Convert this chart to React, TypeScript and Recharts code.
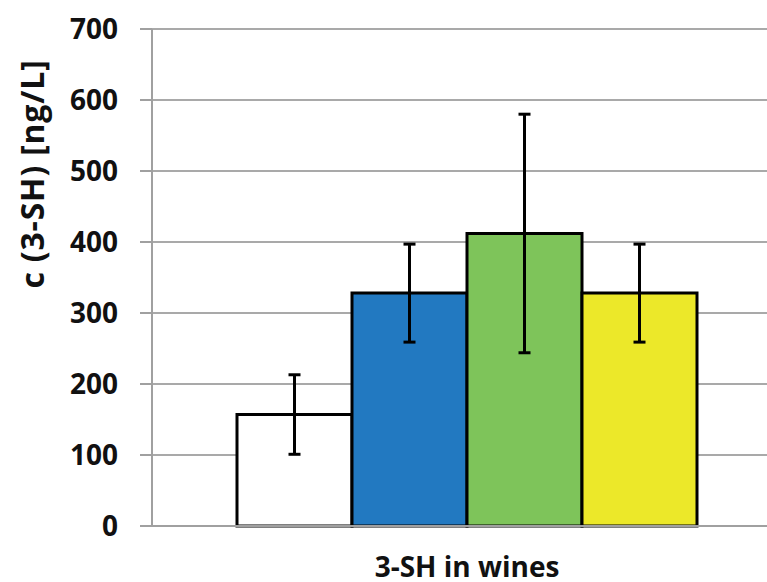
import * as React from 'react';
import { BarChart, Bar, XAxis, YAxis, CartesianGrid, ErrorBar } from 'recharts';

const categories = ['3-SH in wines'];
const seriesKeys = ['s1', 's2', 's3', 's4'];
const means = [157, 328, 412, 328];
const errors = [56, 69, 168, 69];
const COLORS = ['#ffffff', '#2279c1', '#7ec45a', '#ece829'];
const yTicks = [0, 100, 200, 300, 400, 500, 600, 700];
const yLabel = 'c (3-SH) [ng/L]';

const data = categories.map(name => {
  const row: any = { name };
  seriesKeys.forEach((k, i) => {
    row[k] = means[i];
    row[k + 'Err'] = errors[i];
  });
  return row;
});

const FONT = '"Open Sans", sans-serif';

const YLabel = props => {
  const { viewBox } = props;
  const x = viewBox.x + 44;
  const y = viewBox.y + 145;
  return (
    <text
      x={x}
      y={y}
      transform={`rotate(-90 ${x} ${y})`}
      textAnchor="middle"
      fontFamily={FONT}
      fontWeight={700}
      fontSize={32}
      letterSpacing={0.8}
      fill="#111"
    >
      {yLabel}
    </text>
  );
};

export default function App() {
  return (
    <div style={{ position: 'absolute', left: 0, top: 0, width: 767, height: 582, overflow: 'hidden', background: '#fff' }}>
      <BarChart
        width={767}
        height={582}
        data={data}
        margin={{ top: 29, right: 0, bottom: 0, left: 0 }}
        barSize={115}
        barGap={0}
      >
        <CartesianGrid vertical={false} stroke="#a9a9a9" strokeWidth={2} />
        <XAxis
          dataKey="name"
          height={56}
          padding={{ left: 15, right: 0 }}
          tickLine={false}
          tickSize={0}
          tickMargin={31}
          axisLine={{ stroke: '#a0a0a0', strokeWidth: 2 }}
          tick={{ fontFamily: FONT, fontWeight: 700, fontSize: 28, fill: '#111' }}
        />
        <YAxis
          width={152}
          domain={[0, 700]}
          ticks={yTicks}
          interval={0}
          tickSize={12}
          tickMargin={22}
          axisLine={{ stroke: '#a0a0a0', strokeWidth: 2 }}
          tickLine={{ stroke: '#a0a0a0', strokeWidth: 2 }}
          tick={{ fontFamily: FONT, fontWeight: 700, fontSize: 28, fill: '#111' }}
          label={<YLabel />}
        />
        {seriesKeys.map((k, i) => (
          <Bar
            key={k}
            dataKey={k}
            fill={COLORS[i]}
            stroke="#000"
            strokeWidth={3}
            isAnimationActive={false}
          >
            <ErrorBar dataKey={k + 'Err'} width={6} strokeWidth={3} stroke="#000" />
          </Bar>
        ))}
      </BarChart>
    </div>
  );
}
